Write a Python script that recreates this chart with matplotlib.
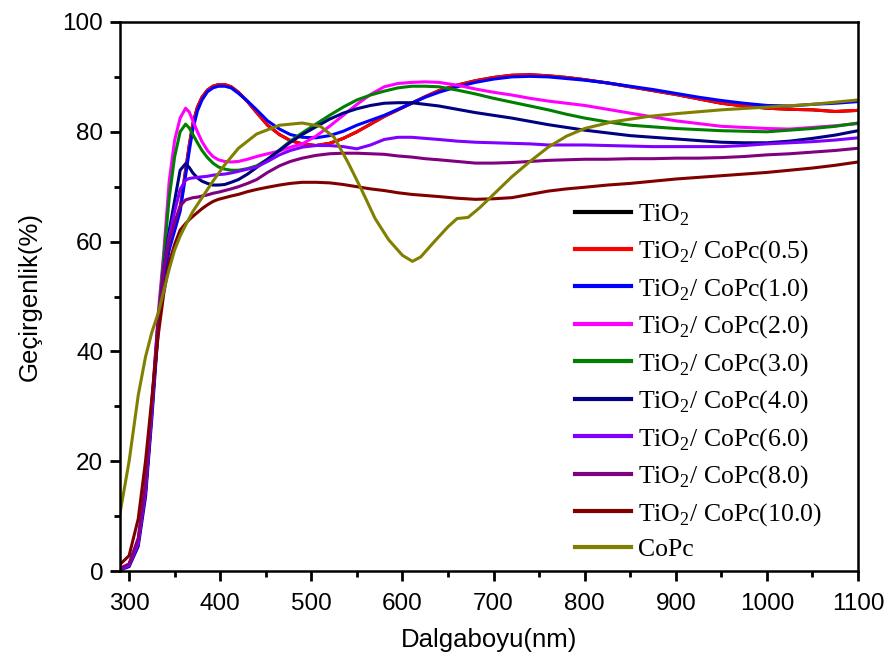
import matplotlib
matplotlib.use("Agg")
import matplotlib.pyplot as plt
from matplotlib.ticker import MultipleLocator

# ----------------------------------------------------------------------
# Data
# ----------------------------------------------------------------------
wl = [290, 300, 310, 318, 325, 332, 338, 344, 350, 356, 362, 366, 370, 375,
      380, 386, 392, 398, 405, 412, 420, 430, 440, 452, 465, 477, 490, 505,
      520, 535, 550, 565, 580, 595, 610, 625, 640, 660, 680, 700, 720, 740,
      760, 780, 800, 825, 850, 875, 900, 925, 950, 975, 1000, 1025, 1050,
      1075, 1100]

t_05 = [0.3, 1.2, 5.5, 15, 30, 45, 54, 59, 62.5, 66, 73, 77.5, 81.5, 84.5,
        86.3, 87.6, 88.3, 88.6, 88.6, 88.2, 87.2, 85.5, 83.5, 81.2, 79.5, 78.4,
        77.8, 77.5, 77.9, 78.8, 80.0, 81.4, 82.8, 84.0, 85.2, 86.4, 87.5, 88.5,
        89.3, 89.9, 90.3, 90.4, 90.2, 89.9, 89.5, 88.9, 88.2, 87.5, 86.8, 86.0,
        85.2, 84.7, 84.3, 84.1, 84.0, 83.7, 83.9]
t_tio2 = list(t_05)
t_10 = [0.3, 1.1, 5.2, 14.5, 29.5, 44.5, 53.5, 58.5, 62, 65.5, 72, 76.5, 80.5,
        83.8, 85.8, 87.3, 88.0, 88.3, 88.3, 88.0, 87.0, 85.6, 84.0, 82.0, 80.5,
        79.5, 79.0, 78.9, 79.3, 80.1, 81.2, 82.1, 83.0, 84.1, 85.2, 86.3, 87.2,
        88.2, 89.0, 89.6, 90.0, 90.1, 90.0, 89.7, 89.4, 88.9, 88.3, 87.7, 87.0,
        86.3, 85.7, 85.2, 84.8, 84.7, 85.0, 85.2, 85.5]
t_20 = [0.3, 1.2, 5.5, 15, 30, 47, 58, 71, 78.5, 82.5, 84.3, 83.6, 82.0, 80.0,
        78.2, 76.6, 75.5, 74.9, 74.6, 74.5, 74.6, 75.0, 75.5, 76.0, 76.5, 77.2,
        77.8, 79.2, 81.0, 83.0, 85.0, 86.8, 88.2, 88.8, 89.0, 89.1, 89.0, 88.5,
        87.8, 87.2, 86.7, 86.1, 85.6, 85.2, 84.8, 84.1, 83.4, 82.7, 82.0, 81.5,
        81.0, 80.8, 80.6, 80.5, 80.8, 81.1, 81.5]
t_30 = [0.3, 1.1, 5.2, 14.5, 29, 46, 57, 68, 75.5, 80, 81.4, 80.7, 79.5, 78.0,
        76.6, 75.3, 74.3, 73.6, 73.2, 73.0, 73.0, 73.3, 73.8, 75.0, 76.7, 78.3,
        79.8, 81.4, 83.0, 84.5, 85.8, 86.7, 87.4, 88.0, 88.3, 88.3, 88.2, 87.6,
        86.9, 86.1, 85.4, 84.7, 84.0, 83.2, 82.5, 81.8, 81.2, 80.9, 80.6, 80.4,
        80.2, 80.1, 80.0, 80.3, 80.6, 81.0, 81.6]
t_40 = [0.2, 0.8, 4.5, 13.5, 28, 44, 55, 62, 67.5, 73, 74.2, 73.5, 72.5, 71.6,
        71.0, 70.6, 70.3, 70.3, 70.4, 70.8, 71.3, 72.3, 73.5, 75.0, 76.6, 78.1,
        79.5, 80.9, 82.3, 83.4, 84.2, 84.8, 85.2, 85.3, 85.3, 85.0, 84.7, 84.1,
        83.5, 83.0, 82.5, 81.9, 81.3, 80.8, 80.3, 79.8, 79.3, 79.0, 78.7, 78.4,
        78.1, 78.0, 78.0, 78.3, 78.8, 79.4, 80.2]
t_60 = [0.3, 1.0, 5, 14.5, 29, 45, 55, 61, 65.5, 69.5, 71.2, 71.5, 71.6, 71.7,
        71.8, 71.9, 72.1, 72.2, 72.3, 72.5, 72.8, 73.2, 73.6, 74.6, 75.8, 76.6,
        77.2, 77.5, 77.5, 77.3, 76.9, 77.6, 78.6, 79.0, 79.0, 78.8, 78.6, 78.3,
        78.1, 78.0, 77.9, 77.8, 77.6, 77.6, 77.6, 77.5, 77.4, 77.3, 77.3, 77.3,
        77.3, 77.5, 77.8, 78.0, 78.2, 78.5, 78.9]
t_80 = [0.5, 1.3, 6, 16, 31, 46, 55, 60, 63.5, 66.5, 67.6, 67.8, 68.0, 68.1,
        68.3, 68.5, 68.8, 69.0, 69.3, 69.6, 70.0, 70.6, 71.3, 72.6, 73.8, 74.6,
        75.2, 75.7, 76.0, 76.1, 76.1, 76.0, 75.9, 75.6, 75.4, 75.1, 74.9, 74.6,
        74.3, 74.3, 74.4, 74.6, 74.8, 74.9, 75.0, 75.0, 75.1, 75.1, 75.2, 75.2,
        75.3, 75.5, 75.8, 76.0, 76.3, 76.6, 77.0]
t_100 = [1.2, 2.8, 9.5, 20, 31.5, 43, 50.5, 56.2, 59.5, 62.1, 63.3, 64.0, 64.6,
         65.3, 66.0, 66.7, 67.3, 67.7, 68.0, 68.3, 68.6, 69.1, 69.5, 69.9, 70.3,
         70.6, 70.8, 70.8, 70.7, 70.4, 70.0, 69.6, 69.3, 68.9, 68.6, 68.4, 68.2,
         67.9, 67.7, 67.8, 68.0, 68.6, 69.2, 69.6, 69.9, 70.3, 70.6, 71.0, 71.4,
         71.7, 72.0, 72.3, 72.6, 73.0, 73.4, 73.9, 74.5]

wl_copc = [290, 300, 310, 318, 325, 332, 338, 344, 350, 356, 362, 370, 380,
           392, 405, 420, 440, 465, 490, 510, 525, 540, 555, 570, 585, 600,
           611, 620, 635, 650, 660, 672, 685, 700, 720, 740, 760, 780, 800,
           830, 870, 900, 950, 1000, 1050, 1100]
t_copc = [10.5, 20, 32, 39, 43.5, 47, 51, 55, 58.5, 61, 63, 65.5, 68, 71, 74,
          77, 79.6, 81.2, 81.6, 81.0, 79.0, 74.5, 69.5, 64.2, 60.3, 57.5, 56.4,
          57.2, 60.0, 62.7, 64.2, 64.4, 66.2, 68.6, 71.8, 74.6, 77.2, 79.2,
          80.6, 81.8, 82.8, 83.3, 84.0, 84.5, 85.0, 85.8]

labels = ["TiO$_2$", "TiO$_2$/ CoPc(0.5)", "TiO$_2$/ CoPc(1.0)",
          "TiO$_2$/ CoPc(2.0)", "TiO$_2$/ CoPc(3.0)", "TiO$_2$/ CoPc(4.0)",
          "TiO$_2$/ CoPc(6.0)", "TiO$_2$/ CoPc(8.0)", "TiO$_2$/ CoPc(10.0)",
          "CoPc"]
colors = ["#000000", "#FF0000", "#0000FF", "#FF00FF", "#008000", "#000080",
          "#8000FF", "#800080", "#800000", "#808000"]
series = [(wl, t_tio2), (wl, t_05), (wl, t_10), (wl, t_20), (wl, t_30),
          (wl, t_40), (wl, t_60), (wl, t_80), (wl, t_100), (wl_copc, t_copc)]

# ----------------------------------------------------------------------
# Figure
# ----------------------------------------------------------------------
plt.rcParams["font.family"] = ["Liberation Sans", "DejaVu Sans"]
plt.rcParams["mathtext.fontset"] = "custom"
plt.rcParams["mathtext.rm"] = "Liberation Serif"

fig = plt.figure(figsize=(8.93, 6.64), dpi=100)
ax = fig.add_axes([120 / 893, 1 - 571 / 664, 738 / 893, 549 / 664])

for (x, y), c, lab in zip(series, colors, labels):
    ax.plot(x, y, color=c, lw=2.2, label=lab)

ax.set_xlim(290, 1100)
ax.set_ylim(0, 100)
ax.xaxis.set_major_locator(MultipleLocator(100))
ax.xaxis.set_minor_locator(MultipleLocator(50))
ax.yaxis.set_major_locator(MultipleLocator(20))
ax.yaxis.set_minor_locator(MultipleLocator(10))
ax.tick_params(which="major", direction="out", length=7, width=2, pad=5,
               labelsize=17.5, top=False, right=False)
ax.tick_params(axis="x", which="major", pad=9)
ax.tick_params(which="minor", direction="out", length=4, width=2,
               top=False, right=False)
for sp in ax.spines.values():
    sp.set_linewidth(1.8)

ax.set_xlabel("Dalgaboyu(nm)", fontsize=18.5, labelpad=9)
ax.set_ylabel("Geçirgenlik(%)", fontsize=18.5, labelpad=15)

leg = ax.legend(loc="upper left", bbox_to_anchor=(0.616, 0.672),
                frameon=False, handlelength=2.18, handletextpad=0.27,
                labelspacing=0.415, borderaxespad=0, borderpad=0,
                prop={"family": "Liberation Serif", "size": 18.5})
for h in leg.get_lines():
    h.set_linewidth(3)

fig.savefig("out.png", dpi=100)
